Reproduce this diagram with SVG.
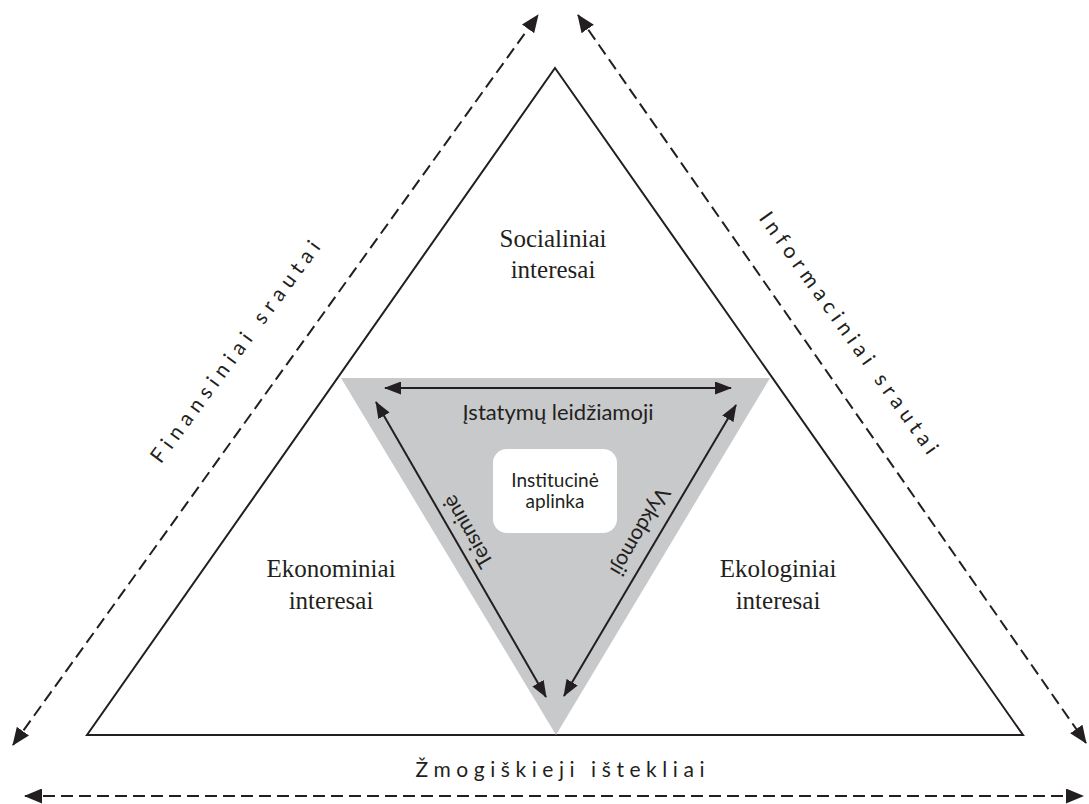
<svg xmlns="http://www.w3.org/2000/svg" width="1089" height="804" viewBox="0 0 1089 804">
  <defs>
    <style>
      .serif { font-family: "Liberation Serif", "Times New Roman", serif; font-size: 25px; fill: #231f20; text-anchor: middle; }
      .sans { font-family: Lato, "Open Sans", "Liberation Sans", sans-serif; fill: #231f20; text-anchor: middle; }
      .solid { stroke: #231f20; stroke-width: 2; fill: none; }
      .dash { stroke: #231f20; stroke-width: 2; fill: none; stroke-dasharray: 12 6; }
    </style>
    <marker id="ah" markerUnits="userSpaceOnUse" markerWidth="17" markerHeight="13" refX="16" refY="6.5" orient="auto-start-reverse" viewBox="0 0 17 13">
      <path d="M0,0 L17,6.5 L0,13 z" fill="#231f20"/>
    </marker>
    <marker id="ahd" markerUnits="userSpaceOnUse" markerWidth="18" markerHeight="15" refX="17" refY="7.5" orient="auto-start-reverse" viewBox="0 0 18 15">
      <path d="M0,0 L18,7.5 L0,15 z" fill="#231f20"/>
    </marker>
  </defs>

  <rect width="1089" height="804" fill="#ffffff"/>

  <g id="outer-triangle">
    <polygon class="solid" points="555,68 1023,735 87,735"/>
  </g>

  <g id="institutional-triangle">
    <polygon points="341,378 770,378 556,735" fill="#c8c9cb"/>
  </g>

  <g id="connectors">
    <line class="solid" x1="385" y1="388" x2="731" y2="388" marker-start="url(#ah)" marker-end="url(#ah)"/>
    <line class="solid" x1="376" y1="402" x2="546" y2="697" marker-start="url(#ah)" marker-end="url(#ah)"/>
    <line class="solid" x1="736" y1="405" x2="564" y2="696" marker-start="url(#ah)" marker-end="url(#ah)"/>
    <line class="dash" x1="13" y1="745" x2="538" y2="15" marker-start="url(#ahd)" marker-end="url(#ahd)"/>
    <line class="dash" x1="578" y1="15" x2="1086" y2="743" marker-start="url(#ahd)" marker-end="url(#ahd)"/>
    <line class="dash" x1="25" y1="796" x2="1083" y2="796" marker-start="url(#ahd)" marker-end="url(#ahd)"/>
  </g>

  <g id="social">
    <text class="serif" x="553" y="247">Socialiniai</text>
    <text class="serif" x="553" y="278">interesai</text>
  </g>
  <g id="economic">
    <text class="serif" x="331" y="577">Ekonominiai</text>
    <text class="serif" x="331" y="609">interesai</text>
  </g>
  <g id="ecological">
    <text class="serif" x="778" y="577">Ekologiniai</text>
    <text class="serif" x="778" y="609">interesai</text>
  </g>

  <g id="institutional-environment">
    <rect x="493" y="449" width="124" height="84" rx="14" fill="#ffffff"/>
    <text class="sans" x="555" y="487" font-size="19">Institucinė</text>
    <text class="sans" x="555" y="508" font-size="19">aplinka</text>
  </g>

  <g id="legislative">
    <text class="sans" x="558" y="420" font-size="22">Įstatymų leidžiamoji</text>
  </g>
  <g id="judicial">
    <text class="sans" font-size="21" transform="translate(474,528) rotate(240)">Teisminė</text>
  </g>
  <g id="executive">
    <text class="sans" font-size="21" transform="translate(634,528) rotate(120)">Vykdomoji</text>
  </g>

  <g id="financial-flows">
    <text class="sans" font-size="21" textLength="270" lengthAdjust="spacing" transform="translate(241,356) rotate(-53.5)">Finansiniai srautai</text>
  </g>
  <g id="information-flows">
    <text class="sans" font-size="21" textLength="292" lengthAdjust="spacing" transform="translate(843,337) rotate(54.5)">Informaciniai srautai</text>
  </g>
  <g id="human-resources">
    <text class="sans" font-size="21" x="560" y="777" textLength="289" lengthAdjust="spacing">Žmogiškieji ištekliai</text>
  </g>
</svg>
